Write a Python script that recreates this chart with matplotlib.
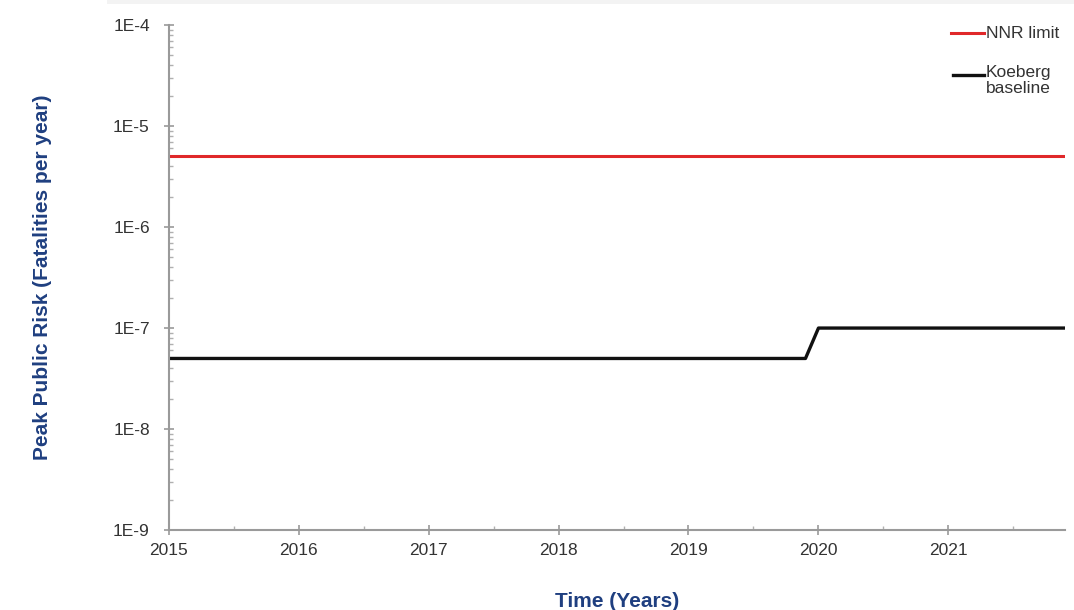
import matplotlib.pyplot as plt
from matplotlib.ticker import LogLocator, FixedLocator, MultipleLocator
from matplotlib.patches import Rectangle

plt.rcParams['font.family'] = ['Liberation Sans', 'DejaVu Sans']

# data
nnr_years = [2015, 2021.9]
nnr_risk = [5e-6, 5e-6]

koeberg_years = [2015, 2019.9, 2020.0, 2021.9]
koeberg_risk = [5e-8, 5e-8, 1e-7, 1e-7]

y_ticks = [1e-9, 1e-8, 1e-7, 1e-6, 1e-5, 1e-4]
y_labels = ['1E-9', '1E-8', '1E-7', '1E-6', '1E-5', '1E-4']
x_ticks = [2015, 2016, 2017, 2018, 2019, 2020, 2021]

nnr_color = '#e0282a'
koeberg_color = '#111111'
title_blue = '#1f3f80'

fig = plt.figure(figsize=(10.74, 6.10), dpi=100)
# faint grey band at the very top, as in the source image
fig.patches.append(Rectangle((0.1, 0.994), 0.9, 0.006, transform=fig.transFigure,
                             color='#f3f3f3', lw=0))
ax = fig.add_axes([0.157, 0.131, 0.835, 0.828])

ax.plot(nnr_years, nnr_risk, color=nnr_color, lw=2.2)
ax.plot(koeberg_years, koeberg_risk, color=koeberg_color, lw=2.4)

ax.set_yscale('log')
ax.set_ylim(1e-9, 1e-4)
ax.set_xlim(2015, 2021.9)
ax.yaxis.set_major_locator(FixedLocator(y_ticks))
ax.set_yticklabels(y_labels)
ax.yaxis.set_minor_locator(LogLocator(base=10, subs=range(2, 10)))
ax.yaxis.set_minor_formatter(plt.NullFormatter())
ax.set_xticks(x_ticks)
ax.xaxis.set_minor_locator(MultipleLocator(0.5))

for s in ['top', 'right']:
    ax.spines[s].set_visible(False)
for s in ['left', 'bottom']:
    ax.spines[s].set_color('#9a9a9a')
    ax.spines[s].set_linewidth(1.5)

ax.tick_params(which='major', direction='inout', length=7, width=1.2, color='#9a9a9a',
               labelsize=12.5, labelcolor='#333333')
ax.tick_params(which='minor', direction='in', length=3, width=1, color='#b0b0b0')
ax.tick_params(axis='x', which='major', pad=6)
ax.tick_params(axis='y', which='major', pad=10)

ax.set_ylabel('Peak Public Risk (Fatalities per year)', fontsize=15, fontweight='bold',
              color=title_blue, labelpad=44)
ax.set_xlabel('Time (Years)', fontsize=15, fontweight='bold', color=title_blue, labelpad=24)

# legend drawn by hand: key line beside the first text line, like the source
ax.plot([0.872, 0.909], [0.984, 0.984], transform=ax.transAxes, color=nnr_color, lw=2.2,
        clip_on=False)
ax.text(0.911, 0.984, 'NNR limit', transform=ax.transAxes, fontsize=12.5, va='center',
        ha='left', color='#333333')
ax.plot([0.875, 0.909], [0.901, 0.901], transform=ax.transAxes, color=koeberg_color, lw=2.4,
        clip_on=False)
ax.text(0.911, 0.921, 'Koeberg\nbaseline', transform=ax.transAxes, fontsize=12.5, va='top',
        ha='left', color='#333333', linespacing=1.1)

fig.savefig('out.png', dpi=100)
